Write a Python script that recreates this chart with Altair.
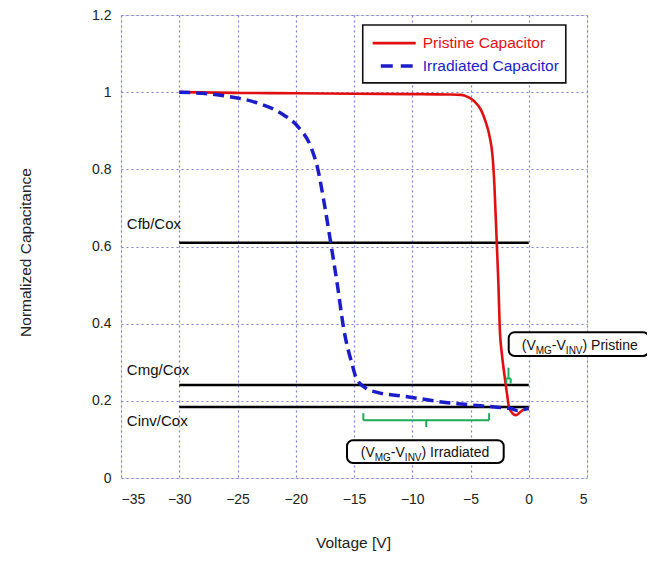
import altair as alt
import pandas as pd

# ---- data ----
pristine_v = [-30, -25, -20, -15, -10, -7, -5.8, -5.2, -4.7, -4.1, -3.7, -3.35, -3.1, -2.95, -2.75,
              -2.6, -2.49, -2.3, -2.1, -1.97, -1.85, -1.7, -1.5, -1.3, -1.1, -0.9, -0.7, -0.5, -0.3, 0]
pristine_c = [1.0, 0.998, 0.997, 0.996, 0.995, 0.994, 0.993, 0.987, 0.977, 0.954, 0.923, 0.884, 0.832,
              0.76, 0.612, 0.50, 0.39, 0.32, 0.27, 0.24, 0.215, 0.184, 0.172, 0.165, 0.163, 0.166,
              0.172, 0.176, 0.179, 0.18]

irr_v = [-30, -28, -26, -23.3, -21.3, -19.8, -18.7, -18.1, -17.6, -17.0, -16.4, -15.9, -15.1, -14.85,
         -14.0, -13, -11, -9, -7.5, -5.5, -4.1, -2.5, -1.5, -1.0, -0.5, 0]
irr_c = [1.0, 0.997, 0.99, 0.972, 0.946, 0.91, 0.858, 0.80, 0.72, 0.61, 0.495, 0.39, 0.288, 0.262,
         0.233, 0.222, 0.213, 0.204, 0.197, 0.191, 0.187, 0.183, 0.180, 0.175, 0.177, 0.18]

series_names = ["Pristine Capacitor", "Irradiated Capacitor"]
series_colors = ["#e01010", "#1c1cc8"]

ref_names = ["Cfb/Cox", "Cmg/Cox", "Cinv/Cox"]
ref_values = [0.61, 0.241, 0.184]
ref_label_y = [0.658, 0.28, 0.148]
ref_x_start, ref_x_end, ref_label_x = -30, 0, -34.5

x_ticks = [-35, -30, -25, -20, -15, -10, -5, 0, 5]
y_ticks = [0, 0.2, 0.4, 0.6, 0.8, 1.0, 1.2]

# bracket segments (x, x2, y, y2)
br_x = [-14.2, -14.2, -3.4, -8.8, -1.92, -1.92, -1.55, -1.74]
br_x2 = [-3.4, -14.2, -3.4, -8.8, -1.55, -1.92, -1.55, -1.74]
br_y = [0.150, 0.150, 0.150, 0.150, 0.258, 0.258, 0.258, 0.258]
br_y2 = [0.150, 0.168, 0.168, 0.132, 0.258, 0.245, 0.245, 0.286]

# annotation boxes
box_x = [-1.72, -15.6]
box_x2 = [10.3, -2.15]
box_y = [0.378, 0.098]
box_y2 = [0.316, 0.039]
ann_x = [-0.6, -14.42]
ann_y = [0.332, 0.0545]
ann_tail = [") Pristine", ") Irradiated"]

FONT = "Liberation Sans"

df_p = pd.DataFrame({"v": pristine_v, "c": pristine_c, "s": series_names[0]})
df_i = pd.DataFrame({"v": irr_v, "c": irr_c, "s": series_names[1]})

xs = alt.Scale(domain=[-35, 5], nice=False, zero=False)
ys = alt.Scale(domain=[0, 1.2], nice=False, zero=False)

X = lambda f="v": alt.X(f, type="quantitative", scale=xs)
Y = lambda f="c": alt.Y(f, type="quantitative", scale=ys)

base_axes = alt.Chart(pd.DataFrame({"v": [-35], "c": [0]})).mark_point(opacity=0).encode(
    x=alt.X("v:Q", scale=xs, title="Voltage [V]",
            axis=alt.Axis(values=x_ticks, format="d", grid=True, gridDash=[2, 3], gridColor="#7f7fd6",
                          gridWidth=1.2, ticks=False, domain=False, labelPadding=14, labelFontSize=14,
                          labelFont=FONT, labelColor="#222", titleFont=FONT, titleFontSize=15.5,
                          titleFontWeight="normal", titleColor="#222", titleX=232, titleY=64,
                          titleBaseline="middle", titleAlign="center")),
    y=alt.Y("c:Q", scale=ys, title="Normalized Capacitance",
            axis=alt.Axis(values=y_ticks, format="~g", grid=True, gridDash=[2, 3], gridColor="#7f7fd6",
                          gridWidth=1.2, ticks=False, domain=False, labelPadding=10, labelFontSize=14,
                          labelFont=FONT, labelColor="#222", titleFont=FONT, titleFontSize=15.5,
                          titleFontWeight="normal", titleColor="#222", titleX=-96, titleY=237,
                          titleBaseline="middle", titleAlign="center", titleAngle=270)),
)

df_ref = pd.DataFrame({"name": ref_names, "val": ref_values, "ly": ref_label_y,
                       "x0": ref_x_start, "x1": ref_x_end, "lx": ref_label_x})
ref_lines = alt.Chart(df_ref).mark_rule(color="black", strokeWidth=2.5).encode(
    x=X("x0"), x2="x1", y=Y("val"))
ref_text = alt.Chart(df_ref).mark_text(align="left", baseline="middle", font=FONT, fontSize=15,
                                       color="#111").encode(x=X("lx"), y=Y("ly"), text="name")

red = alt.Chart(df_p).mark_line(color=series_colors[0], strokeWidth=2.6, interpolate="monotone").encode(
    x=X(), y=Y())
blue = alt.Chart(df_i).mark_line(color=series_colors[1], strokeWidth=3.5, strokeDash=[11, 6],
                                 interpolate="monotone").encode(x=X(), y=Y())

df_br = pd.DataFrame({"x": br_x, "x2": br_x2, "y": br_y, "y2": br_y2})
brackets = alt.Chart(df_br).mark_rule(color="#1faa5a", strokeWidth=2).encode(
    x=X("x"), x2="x2", y=Y("y"), y2="y2")

df_box = pd.DataFrame({"x": box_x, "x2": box_x2, "y": box_y, "y2": box_y2})
boxes = alt.Chart(df_box).mark_rect(fill="white", stroke="black", strokeWidth=2, cornerRadius=6).encode(
    x=X("x"), x2="x2", y=Y("y"), y2="y2")

# annotation text pieces with subscripts
pieces = [("(V", 0, 14, 0), ("MG", 14.0, 10, 4), ("-V", 30.1, 14, 0), ("INV", 44.1, 10, 4)]
ann_layers = []
for txt, dx, fs, dy in pieces:
    d = pd.DataFrame({"x": ann_x, "y": ann_y, "t": [txt, txt]})
    ann_layers.append(alt.Chart(d).mark_text(align="left", baseline="alphabetic", font=FONT, fontSize=fs,
                                             dx=dx, dy=dy, color="#111").encode(x=X("x"), y=Y("y"), text="t"))
d_tail = pd.DataFrame({"x": ann_x, "y": ann_y, "t": ann_tail})
ann_layers.append(alt.Chart(d_tail).mark_text(align="left", baseline="alphabetic", font=FONT, fontSize=14,
                                              dx=60.8, color="#111").encode(x=X("x"), y=Y("y"), text="t"))

# legend (manual)
leg_box = alt.Chart(pd.DataFrame({"x": [-14.25], "x2": [3.18], "y": [1.174], "y2": [1.024]})).mark_rect(
    fill="white", stroke="#111", strokeWidth=1.6).encode(x=X("x"), x2="x2", y=Y("y"), y2="y2")
df_leg = pd.DataFrame({"name": series_names, "color": series_colors, "y": [1.127, 1.068],
                       "lx0": [-13.4, -12.7], "lx1": [-9.7, -9.96], "tx": [-9.1, -9.1]})
leg_red = alt.Chart(df_leg.iloc[[0]]).mark_rule(color=series_colors[0], strokeWidth=2.6).encode(
    x=X("lx0"), x2="lx1", y=Y("y"))
leg_blue = alt.Chart(df_leg.iloc[[1]]).mark_rule(color=series_colors[1], strokeWidth=3.5,
                                                 strokeDash=[12, 8]).encode(x=X("lx0"), x2="lx1", y=Y("y"))
leg_text = alt.Chart(df_leg).mark_text(align="left", baseline="middle", font=FONT, fontSize=15.5).encode(
    x=X("tx"), y=Y("y"), text="name",
    color=alt.Color("name:N", scale=alt.Scale(domain=series_names, range=series_colors), legend=None))

chart = alt.layer(base_axes, ref_lines, red, blue, brackets, boxes, *ann_layers, ref_text,
                  leg_box, leg_red, leg_blue, leg_text).properties(
    width=466, height=463,
    autosize=alt.AutoSizeParams(type="none"),
    padding={"left": 113, "top": 7, "right": 60, "bottom": 76},
).configure_view(stroke="#8a8ad8", strokeWidth=1.5).configure(background="white")

chart.save("out.html", embed_options={"renderer": "svg", "actions": False})
